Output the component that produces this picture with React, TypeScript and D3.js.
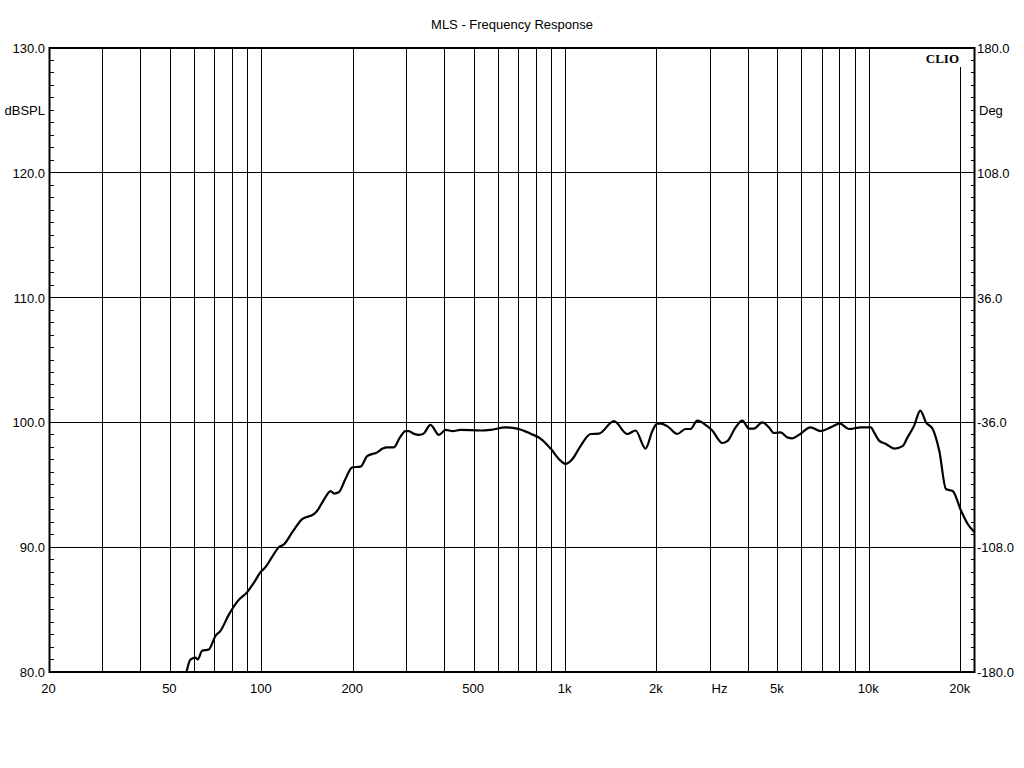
import React from "react";
import * as d3 from "d3";

const freqs = [56.5, 58.2, 60.5, 61.5, 63.6, 66.9, 70.4, 73.1, 77.9, 83.4, 89.5, 95, 99, 102.8, 108, 113.7, 118, 126, 135.8, 148.4, 152, 160, 168.5, 173, 179.3, 188, 198.5, 211.4, 222.3, 239.9, 250, 258.8, 272, 285, 297, 304.8, 316, 330, 341, 359, 383, 403, 425, 451, 525, 566, 634, 693, 767, 827, 893, 963, 1000, 1052, 1120, 1209, 1288, 1443, 1597, 1700, 1834, 1930, 2005, 2053, 2162, 2333, 2483, 2580, 2714, 2928, 3041, 3281, 3408, 3630, 3819, 4018, 4170, 4443, 4672, 4853, 5105, 5372, 5580, 5866, 6410, 6915, 7459, 8003, 8570, 9376, 10114, 10373, 10770, 11340, 12080, 12870, 13360, 14050, 14720, 15370, 16170, 17000, 17880, 18810, 20070, 21110, 22210];
const spl = [80.0, 81.0, 81.15, 81.0, 81.7, 81.8, 82.9, 83.3, 84.6, 85.7, 86.4, 87.3, 88.0, 88.4, 89.2, 90.0, 90.2, 91.2, 92.25, 92.65, 92.9, 93.8, 94.5, 94.3, 94.4, 95.4, 96.4, 96.45, 97.3, 97.6, 97.9, 98.0, 98.0, 98.8, 99.3, 99.3, 99.1, 99.0, 99.1, 99.8, 99.0, 99.4, 99.3, 99.4, 99.35, 99.4, 99.6, 99.5, 99.1, 98.7, 97.9, 96.93, 96.67, 97.05, 98.1, 99.07, 99.1, 100.1, 99.07, 99.35, 97.9, 99.3, 99.9, 99.9, 99.7, 99.07, 99.47, 99.47, 100.14, 99.7, 99.35, 98.35, 98.5, 99.6, 100.14, 99.5, 99.5, 100.0, 99.6, 99.15, 99.2, 98.8, 98.72, 99.0, 99.6, 99.3, 99.6, 99.9, 99.47, 99.6, 99.6, 99.2, 98.54, 98.27, 97.9, 98.1, 98.8, 99.74, 100.95, 100.0, 99.47, 97.7, 94.66, 94.5, 92.9, 91.84, 91.2];

const xTickValues = [20, 50, 100, 200, 500, 1000, 2000, 3000, 5000, 10000, 20000];
const xTickLabels = ["20", "50", "100", "200", "500", "1k", "2k", "Hz", "5k", "10k", "20k"];
const xGrid = [30, 40, 50, 60, 70, 80, 90, 100, 200, 300, 400, 500, 600, 700, 800, 900, 1000, 2000, 3000, 4000, 5000, 6000, 7000, 8000, 9000, 10000, 20000];
const yLeftTicks = [130, 120, 110, 100, 90, 80];
const yLeftLabels = ["130.0", "120.0", "110.0", "100.0", "90.0", "80.0"];
const yRightLabels = ["180.0", "108.0", "36.0", "-36.0", "-108.0", "-180.0"];

const L = 49.5, R = 974.5, T = 48, B = 672;
const font = "'Liberation Sans', Arial, sans-serif";

export default function App() {
  const x = d3.scaleLog().domain([20, 22200]).range([L, R]);
  const y = d3.scaleLinear().domain([80, 130]).range([B, T]);
  const pts: [number, number][] = freqs.map((f, i) => [x(f), y(spl[i])]);
  const line = d3.line().curve(d3.curveMonotoneX)(pts) || "";
  const minor = d3.range(80, 131, 1);
  return (
    <svg width={1024} height={768} style={{ position: "absolute", left: 0, top: 0, background: "#fff" }}>
      <rect x={0} y={0} width={1024} height={768} fill="#fff" />
      <defs>
        <clipPath id="plot">
          <rect x={L} y={T} width={R - L} height={B - T} />
        </clipPath>
      </defs>
      <text x={512} y={29} textAnchor="middle" fontFamily={font} fontSize={13} fill="#000">MLS - Frequency Response</text>
      {xGrid.map((f) => (
        <line key={"gx" + f} x1={x(f)} x2={x(f)} y1={f === 20000 ? 67 : T} y2={B} stroke="#000" strokeWidth={1} shapeRendering="crispEdges" />
      ))}
      {[90, 100, 110, 120].map((v) => (
        <line key={"gy" + v} x1={L} x2={R} y1={y(v)} y2={y(v)} stroke="#000" strokeWidth={1} shapeRendering="crispEdges" />
      ))}
      {minor.map((v) => (
        <g key={"mt" + v}>
          <line x1={L} x2={L + 4} y1={y(v)} y2={y(v)} stroke="#000" strokeWidth={1} shapeRendering="crispEdges" />
          <line x1={R - 4} x2={R} y1={y(v)} y2={y(v)} stroke="#000" strokeWidth={1} shapeRendering="crispEdges" />
        </g>
      ))}
      <path d={line} fill="none" stroke="#000" strokeWidth={2.2} clipPath="url(#plot)" strokeLinejoin="round" />
      <rect x={L} y={T} width={R - L} height={B - T} fill="none" stroke="#000" strokeWidth={2} />
      <text x={959} y={63} textAnchor="end" fontFamily="'Liberation Serif', 'Times New Roman', serif" fontWeight="bold" fontSize={13} fill="#000">CLIO</text>
      {yLeftTicks.map((v, i) => (
        <text key={"yl" + v} x={45} y={y(v) + 5} textAnchor="end" fontFamily={font} fontSize={13} fill="#000">{yLeftLabels[i]}</text>
      ))}
      {yLeftTicks.map((v, i) => (
        <text key={"yr" + v} x={977} y={y(v) + 5} textAnchor="start" fontFamily={font} fontSize={13} fill="#000">{yRightLabels[i]}</text>
      ))}
      <text x={45} y={115} textAnchor="end" fontFamily={font} fontSize={13} fill="#000">dBSPL</text>
      <text x={979} y={115} textAnchor="start" fontFamily={font} fontSize={13} fill="#000">Deg</text>
      {xTickValues.map((f, i) => (
        <text key={"xl" + f} x={xTickLabels[i] === "Hz" ? x(f) + 9 : x(f) - 1} y={693} textAnchor="middle" fontFamily={font} fontSize={13} fill="#000">{xTickLabels[i]}</text>
      ))}
    </svg>
  );
}
